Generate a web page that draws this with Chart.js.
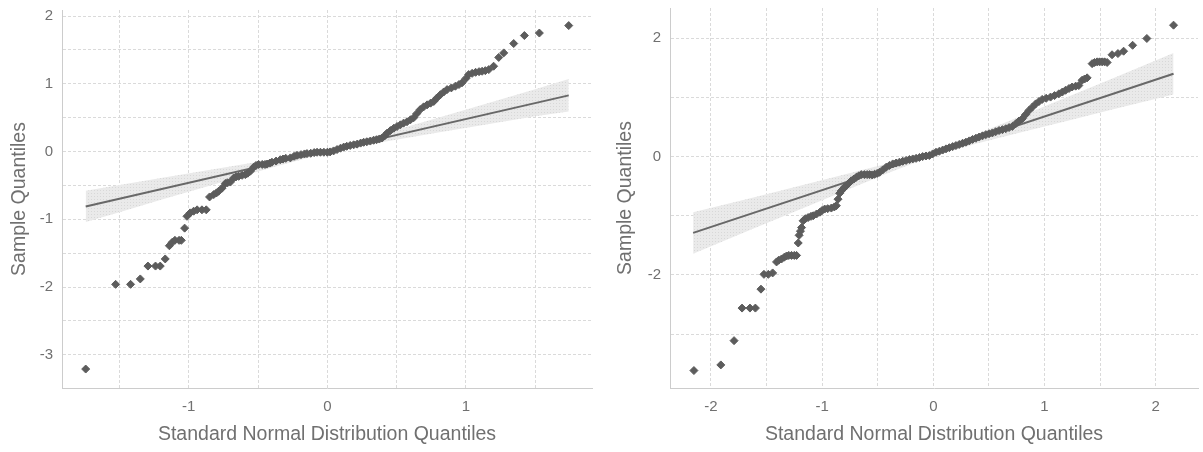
<!DOCTYPE html>
<html>
<head>
<meta charset="utf-8">
<script src="https://cdn.jsdelivr.net/npm/chart.js@4.4.1/dist/chart.umd.min.js"></script>
<style>
  html, body { margin: 0; padding: 0; background: #fff; }
  .box { position: absolute; top: 0; height: 452px; }
  #leftBox { left: 0; width: 600px; }
  #rightBox { left: 600px; width: 603px; }
</style>
</head>
<body>
<div id="leftBox" class="box"><canvas id="left"></canvas></div>
<div id="rightBox" class="box"><canvas id="right"></canvas></div>
<script>
// left panel: sample quantiles vs theoretical quantiles
var leftX = [-1.744,-1.528,-1.42,-1.35,-1.295,-1.24,-1.206,-1.17,-1.14,-1.12,-1.10,-1.07,-1.054,-1.03,-1.013,-0.99,-0.965,-0.94,-0.905,-0.874,
  -0.85,-0.82,-0.80,-0.785,-0.76,-0.736,-0.72,-0.70,-0.676,-0.66,-0.64,-0.615,-0.592,-0.575,-0.556,-0.532,-0.515,-0.496,-0.47,-0.45,
  -0.435,-0.415,-0.40,-0.37,-0.34,-0.32,-0.30,-0.267,-0.24,-0.219,-0.19,-0.165,-0.147,-0.12,-0.095,-0.074,-0.05,-0.025,0,0.02,
  0.045,0.07,0.095,0.118,0.14,0.165,0.19,0.215,0.24,0.262,0.285,0.31,0.334,0.355,0.375,0.395,0.415,0.43,0.455,0.48,
  0.503,0.527,0.55,0.575,0.60,0.623,0.645,0.67,0.695,0.72,0.745,0.768,0.79,0.816,0.84,0.864,0.895,0.924,0.95,0.972,
  1.00,1.02,1.045,1.07,1.095,1.117,1.14,1.165,1.20,1.237,1.273,1.345,1.422,1.53,1.742];
var leftY = [-3.21,-1.96,-1.96,-1.88,-1.69,-1.69,-1.69,-1.585,-1.39,-1.34,-1.31,-1.31,-1.31,-1.13,-0.955,-0.905,-0.88,-0.86,-0.86,-0.86,
  -0.67,-0.635,-0.61,-0.586,-0.54,-0.47,-0.46,-0.45,-0.39,-0.375,-0.365,-0.35,-0.34,-0.32,-0.29,-0.23,-0.205,-0.19,-0.19,-0.19,
  -0.185,-0.17,-0.157,-0.14,-0.12,-0.11,-0.10,-0.093,-0.07,-0.055,-0.045,-0.035,-0.03,-0.025,-0.015,-0.01,-0.01,-0.01,-0.01,-0.005,
  0.01,0.03,0.05,0.066,0.078,0.09,0.10,0.11,0.125,0.137,0.145,0.155,0.167,0.175,0.185,0.20,0.235,0.27,0.31,0.345,
  0.37,0.395,0.42,0.44,0.47,0.50,0.56,0.62,0.66,0.69,0.715,0.74,0.79,0.84,0.88,0.915,0.94,0.965,0.99,1.015,
  1.08,1.137,1.155,1.17,1.18,1.186,1.195,1.21,1.26,1.39,1.457,1.595,1.713,1.75,1.86];
var leftFitX = [-1.744, 1.742];
var leftFitY = [-0.81, 0.83];
var leftBandX = [-1.744, -1.5, -1.2, -0.8, -0.4, 0, 0.4, 0.8, 1.2, 1.5, 1.742];
var leftBandHi = [-0.58, -0.495, -0.39, -0.255, -0.116, 0.043, 0.262, 0.50, 0.74, 0.92, 1.07];
var leftBandLo = [-1.04, -0.895, -0.71, -0.475, -0.236, -0.017, 0.142, 0.28, 0.42, 0.52, 0.59];

// right panel
var rightX = [-2.153,-1.911,-1.792,-1.72,-1.649,-1.60,-1.55,-1.523,-1.484,-1.445,-1.41,-1.39,-1.365,-1.34,-1.32,-1.30,-1.275,-1.25,-1.23,-1.215,
  -1.207,-1.195,-1.185,-1.171,-1.15,-1.126,-1.10,-1.08,-1.05,-1.02,-1.00,-0.977,-0.95,-0.917,-0.89,-0.872,-0.857,-0.842,-0.828,-0.813,
  -0.80,-0.782,-0.76,-0.738,-0.715,-0.693,-0.67,-0.648,-0.62,-0.595,-0.573,-0.55,-0.529,-0.505,-0.484,-0.455,-0.424,-0.395,-0.365,-0.335,
  -0.305,-0.275,-0.245,-0.215,-0.185,-0.155,-0.125,-0.096,-0.066,-0.036,-0.006,0.024,0.054,0.084,0.114,0.144,0.174,0.203,0.233,0.263,
  0.293,0.323,0.353,0.383,0.412,0.442,0.472,0.501,0.531,0.561,0.591,0.621,0.651,0.681,0.711,0.741,0.77,0.80,0.83,0.86,
  0.89,0.92,0.95,0.979,1.015,1.054,1.09,1.129,1.16,1.189,1.22,1.248,1.28,1.308,1.338,1.36,1.383,1.428,1.45,1.473,
  1.495,1.518,1.54,1.563,1.607,1.66,1.711,1.792,1.92,2.16];
var rightY = [-3.615,-3.52,-3.11,-2.56,-2.56,-2.56,-2.24,-1.99,-1.99,-1.966,-1.78,-1.75,-1.73,-1.70,-1.68,-1.67,-1.67,-1.67,-1.67,-1.46,
  -1.33,-1.26,-1.20,-1.085,-1.05,-1.03,-1.01,-1.0,-0.97,-0.94,-0.91,-0.887,-0.88,-0.87,-0.85,-0.83,-0.72,-0.62,-0.58,-0.55,
  -0.52,-0.49,-0.45,-0.41,-0.38,-0.35,-0.325,-0.305,-0.305,-0.305,-0.305,-0.31,-0.30,-0.285,-0.266,-0.225,-0.18,-0.15,-0.124,-0.11,
  -0.095,-0.08,-0.065,-0.05,-0.04,-0.03,-0.015,0.0,0.01,0.017,0.045,0.073,0.09,0.11,0.13,0.15,0.168,0.186,0.205,0.225,
  0.243,0.265,0.29,0.31,0.33,0.35,0.37,0.385,0.40,0.42,0.44,0.455,0.47,0.49,0.51,0.554,0.60,0.64,0.71,0.78,
  0.835,0.89,0.93,0.966,0.985,1.005,1.03,1.06,1.09,1.12,1.15,1.175,1.19,1.20,1.29,1.31,1.33,1.57,1.59,1.60,
  1.60,1.60,1.60,1.59,1.72,1.74,1.78,1.88,1.995,2.22];
var rightFitX = [-2.16, 2.16];
var rightFitY = [-1.29, 1.40];
var rightBandX = [-2.16, -1.6, -1.2, -0.8, -0.4, 0, 0.4, 0.8, 1.2, 1.6, 2.16];
var rightBandHi = [-0.94, -0.682, -0.493, -0.303, -0.114, 0.095, 0.384, 0.693, 1.003, 1.312, 1.75];
var rightBandLo = [-1.64, -1.202, -0.893, -0.583, -0.274, 0.015, 0.224, 0.413, 0.603, 0.792, 1.05];

var FONT = 'Arial, "Liberation Sans", sans-serif';
var TEXT = '#707070';

function pairs(xs, ys) {
  return xs.map(function(x, i) { return {x: x, y: ys[i]}; });
}

// light dotted fill for the confidence band
function dotPattern(ctx) {
  var c = document.createElement('canvas');
  c.width = 3; c.height = 3;
  var p = c.getContext('2d');
  p.fillStyle = '#eaeaea';
  p.fillRect(0, 0, 3, 3);
  p.fillStyle = '#d8d8d8';
  p.fillRect(1, 1, 1, 1);
  return ctx.createPattern(c, 'repeat');
}

function onlyEvery(n) {
  return function(v) {
    var k = Math.round(v);
    if (Math.abs(v - k) > 1e-6 || k % n !== 0) return '';
    return String(k);
  };
}

function makeChart(id, s) {
  var canvas = document.getElementById(id);
  var ctx = canvas.getContext('2d');
  var grid = {color: '#dadada', lineWidth: 1, drawTicks: false};
  return new Chart(canvas, {
    type: 'scatter',
    data: {
      datasets: [
        {
          data: pairs(s.x, s.y),
          pointStyle: 'rectRot',
          pointRadius: 4,
          backgroundColor: '#5c5c5c',
          borderColor: '#5c5c5c',
          borderWidth: 1
        },
        {
          data: pairs(s.fitX, s.fitY),
          showLine: true,
          pointRadius: 0,
          borderColor: '#686868',
          borderWidth: 2
        },
        {
          data: pairs(s.bandX, s.bandHi),
          showLine: true,
          pointRadius: 0,
          borderWidth: 0,
          borderColor: 'rgba(0,0,0,0)',
          backgroundColor: dotPattern(ctx),
          fill: 3
        },
        {
          data: pairs(s.bandX, s.bandLo),
          showLine: true,
          pointRadius: 0,
          borderWidth: 0,
          borderColor: 'rgba(0,0,0,0)',
          fill: false
        }
      ]
    },
    options: {
      responsive: true,
      maintainAspectRatio: false,
      animation: false,
      layout: {padding: {top: s.padTop, right: s.padRight, left: 0, bottom: 0}},
      plugins: {legend: {display: false}, tooltip: {enabled: false}},
      scales: {
        x: {
          type: 'linear',
          min: s.xMin, max: s.xMax,
          afterFit: function(scale) {
            scale.height = 64;
            scale.paddingLeft = 0;
            scale.paddingRight = 0;
          },
          grid: grid,
          border: {color: '#cccccc', dash: [3, 2]},
          ticks: {
            stepSize: 0.5, includeBounds: false, autoSkip: false, maxRotation: 0,
            padding: 10, color: TEXT, font: {family: FONT, size: 15},
            callback: onlyEvery(1)
          },
          title: {
            display: true, text: 'Standard Normal Distribution Quantiles',
            color: TEXT, font: {family: FONT, size: 19.5}, padding: {top: 0, bottom: 6}
          }
        },
        y: {
          type: 'linear',
          min: s.yMin, max: s.yMax,
          afterFit: function(scale) {
            scale.width = s.yWidth;
            scale.paddingTop = 0;
            scale.paddingBottom = 0;
          },
          grid: grid,
          border: {color: '#cccccc', dash: [3, 2]},
          ticks: {
            stepSize: s.yStep, includeBounds: false,
            padding: 9, color: TEXT, font: {family: FONT, size: 15},
            callback: onlyEvery(s.yLabelEvery)
          },
          title: {
            display: true, text: 'Sample Quantiles',
            color: TEXT, font: {family: FONT, size: 19.5}, padding: {top: s.yTitlePad, bottom: 0}
          }
        }
      }
    }
  });
}

var leftChart = makeChart('left', {
  x: leftX, y: leftY, fitX: leftFitX, fitY: leftFitY,
  bandX: leftBandX, bandHi: leftBandHi, bandLo: leftBandLo,
  xMin: -1.915, xMax: 1.91, yMin: -3.49, yMax: 2.09,
  yStep: 0.5, yLabelEvery: 1, yWidth: 62, yTitlePad: 8,
  padTop: 10, padRight: 8
});

var rightChart = makeChart('right', {
  x: rightX, y: rightY, fitX: rightFitX, fitY: rightFitY,
  bandX: rightBandX, bandHi: rightBandHi, bandLo: rightBandLo,
  xMin: -2.368, xMax: 2.38, yMin: -3.91, yMax: 2.51,
  yStep: 1, yLabelEvery: 2, yWidth: 70, yTitlePad: 14,
  padTop: 8, padRight: 3
});
</script>
</body>
</html>
